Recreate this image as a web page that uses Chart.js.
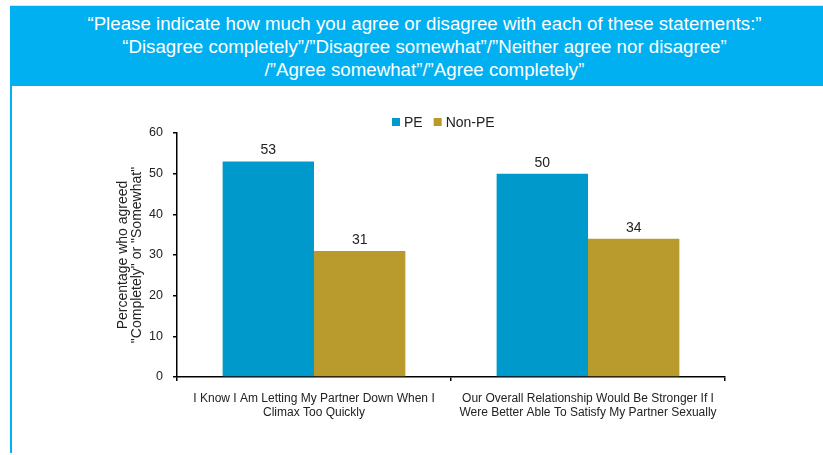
<!DOCTYPE html>
<html>
<head>
<meta charset="utf-8">
<script src="https://cdn.jsdelivr.net/npm/chart.js@4"></script>
<style>
  html, body { margin: 0; padding: 0; background: #ffffff; }
  #wrap { position: relative; width: 823px; height: 455px; overflow: hidden; }
  #banner {
    position: absolute; left: 10px; top: 5px; width: 813px; height: 81px;
    background: #00B0F0; border-top: 1px solid #c8e8f6; box-sizing: border-box;
    color: #ffffff; font-family: "Liberation Sans", Arial, sans-serif;
    font-size: 18.7px; line-height: 23px; text-align: center; padding-top: 6px;
  }
  #banner div { position: relative; left: 8px; white-space: nowrap; }
  #rule { position: absolute; left: 10px; top: 86px; width: 2px; height: 367px; background: #00B0F0; }
  #chart { position: absolute; left: 0; top: 0; }
</style>
</head>
<body>
<div id="wrap">
  <canvas id="chart" width="823" height="455"></canvas>
  <div id="banner">
    <div>“Please indicate how much you agree or disagree with each of these statements:”</div>
    <div>“Disagree completely”/”Disagree somewhat”/”Neither agree nor disagree”</div>
    <div>/”Agree somewhat”/”Agree completely”</div>
  </div>
  <div id="rule"></div>
</div>
<script>
// Statements (each split over two lines) and the share agreeing, per group
const categories = [
  ["I Know I Am Letting My Partner Down When I", "Climax Too Quickly"],
  ["Our Overall Relationship Would Be Stronger If I", "Were Better Able To Satisfy My Partner Sexually"]
];
const seriesNames = ["PE", "Non-PE"];
const peValues = [53, 50];
const nonPeValues = [31, 34];
const yTickValues = [0, 10, 20, 30, 40, 50, 60];
const yAxisTitle = ["Percentage who agreed", "\"Completely\" or \"Somewhat\""];

const seriesColors = ["#0099CC", "#B99B2D"];
const FONT = "'Liberation Sans', Arial, sans-serif";

// Value printed above every bar
const valueLabels = {
  id: "valueLabels",
  afterDatasetsDraw(chart) {
    const ctx = chart.ctx;
    ctx.save();
    ctx.font = "14px " + FONT;
    ctx.fillStyle = "#222222";
    ctx.textAlign = "center";
    ctx.textBaseline = "alphabetic";
    chart.data.datasets.forEach((ds, i) => {
      chart.getDatasetMeta(i).data.forEach((bar, j) => {
        ctx.fillText(String(ds.data[j]), bar.x, bar.y - 7);
      });
    });
    ctx.restore();
  }
};

// Small square-swatch legend above the plot
const swatchLegend = {
  id: "swatchLegend",
  afterDraw(chart) {
    const ctx = chart.ctx;
    ctx.save();
    ctx.font = "14px " + FONT;
    ctx.textBaseline = "middle";
    ctx.textAlign = "left";
    let x = 392;
    const y = 122;
    chart.data.datasets.forEach((ds) => {
      ctx.fillStyle = ds.backgroundColor;
      ctx.fillRect(x, y - 4, 8, 8);
      ctx.fillStyle = "#222222";
      ctx.fillText(ds.label, x + 12, y + 1);
      x += 12 + ctx.measureText(ds.label).width + 11;
    });
    ctx.restore();
  }
};

new Chart(document.getElementById("chart"), {
  type: "bar",
  data: {
    labels: categories,
    datasets: [
      { label: seriesNames[0], data: peValues, backgroundColor: seriesColors[0] },
      { label: seriesNames[1], data: nonPeValues, backgroundColor: seriesColors[1] }
    ]
  },
  options: {
    responsive: false,
    animation: false,
    categoryPercentage: 0.667,
    barPercentage: 1.0,
    layout: { padding: { top: 133, right: 98, left: 0, bottom: 0 } },
    plugins: {
      legend: { display: false },
      title: { display: false },
      tooltip: { enabled: false }
    },
    scales: {
      x: {
        offset: true,
        grid: { display: true, drawOnChartArea: false, offset: true, tickLength: 4, color: "#000000", lineWidth: 1.5 },
        border: { display: true, color: "#000000", width: 1.5 },
        ticks: {
          color: "#222222", font: { family: FONT, size: 12, lineHeight: 1.15 },
          padding: 11, maxRotation: 0, autoSkip: false
        },
        afterFit(scale) { scale.height = 78; }
      },
      y: {
        min: 0,
        max: 60,
        afterBuildTicks(scale) { scale.ticks = yTickValues.map(v => ({ value: v })); },
        grid: { display: true, drawOnChartArea: false, tickLength: 4, color: "#000000", lineWidth: 1.5 },
        border: { display: true, color: "#000000", width: 1.5 },
        ticks: { color: "#222222", font: { family: FONT, size: 12.5 }, padding: 10 },
        title: {
          display: true, text: yAxisTitle, color: "#222222",
          font: { family: FONT, size: 14, lineHeight: 1.0 },
          padding: { top: 116, bottom: 0 }
        },
        afterFit(scale) { scale.width = 177; }
      }
    }
  },
  plugins: [valueLabels, swatchLegend]
});
</script>
</body>
</html>
